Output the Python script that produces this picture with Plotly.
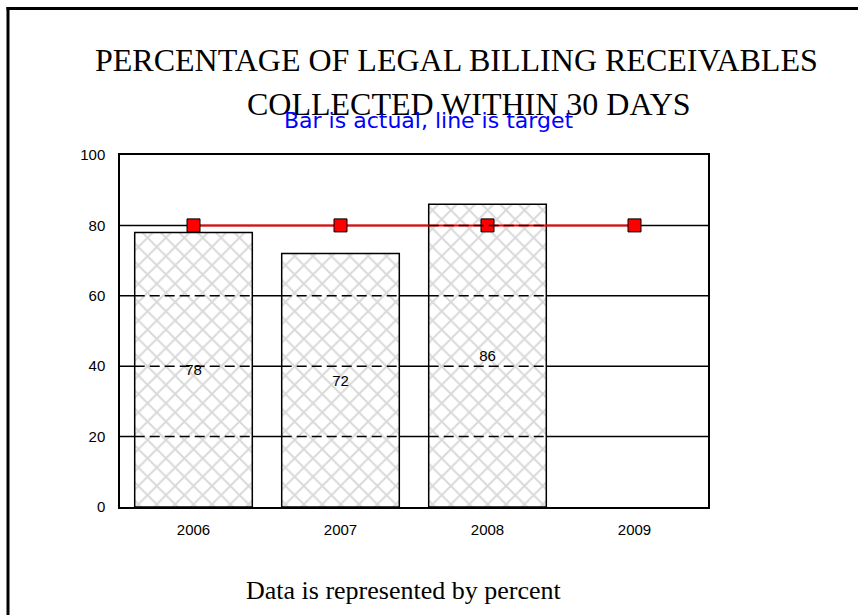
import plotly.graph_objects as go

years = ["2006", "2007", "2008", "2009"]
actual = [78, 72, 86, None]
target = [80, 80, 80, 80]
grid_values = [20, 40, 60, 80]
y_ticks = [0, 20, 40, 60, 80, 100]

W, H = 858, 615
L, R, T, B = 120, 708, 155, 507


def px(x):
    return (x - L) / (R - L)


def py(y):
    return (B - y) / (B - T)


fig = go.Figure()

fig.add_trace(go.Bar(
    x=years, y=actual,
    width=0.8,
    marker=dict(
        color="white",
        line=dict(color="black", width=1.5),
        pattern=dict(shape="x", fgcolor="#b4b4b4", bgcolor="white", size=13, solidity=0.28),
    ),
    text=[str(v) if v is not None else "" for v in actual],
    textposition="inside",
    insidetextanchor="middle",
    textfont=dict(family="Arial", size=15, color="black"),
    showlegend=False,
))

fig.add_trace(go.Scatter(
    x=years, y=target,
    mode="lines+markers",
    line=dict(color="#ff0000", width=2),
    marker=dict(symbol="square", size=13, color="#ff0000", line=dict(color="black", width=1)),
    showlegend=False,
))

shapes = []
# solid gridlines behind bars
for g in grid_values:
    shapes.append(dict(type="line", xref="paper", yref="y", x0=0, x1=1, y0=g, y1=g,
                       line=dict(color="black", width=1.5), layer="below"))
# dashed gridlines over bar interiors
for i, v in enumerate(actual):
    if v is None:
        continue
    for g in grid_values:
        if g < v:
            shapes.append(dict(type="line", xref="x", yref="y", x0=i - 0.4, x1=i + 0.4, y0=g, y1=g,
                               line=dict(color="black", width=1.5, dash="10px,5px"), layer="above"))
# slide border (top and left)
shapes.append(dict(type="line", xref="paper", yref="paper", x0=px(6.5), x1=px(870), y0=py(8.5), y1=py(8.5),
                   line=dict(color="black", width=3)))
shapes.append(dict(type="line", xref="paper", yref="paper", x0=px(8), x1=px(8), y0=py(7), y1=py(630),
                   line=dict(color="black", width=3)))

annotations = [
    dict(text="PERCENTAGE OF LEGAL BILLING RECEIVABLES", xref="paper", yref="paper",
         x=px(456), y=py(60.5), xanchor="center", yanchor="middle", showarrow=False,
         font=dict(family="Liberation Serif", size=32, color="black")),
    dict(text="COLLECTED WITHIN 30 DAYS", xref="paper", yref="paper",
         x=px(469), y=py(103.5), xanchor="center", yanchor="middle", showarrow=False,
         font=dict(family="Liberation Serif", size=32, color="black")),
    dict(text="Bar is actual, line is target", xref="paper", yref="paper",
         x=px(428), y=py(121), xanchor="center", yanchor="middle", showarrow=False,
         font=dict(family="DejaVu Sans", size=22, color="blue")),
    dict(text="Data is represented by percent", xref="paper", yref="paper",
         x=px(404), y=py(590), xanchor="center", yanchor="middle", showarrow=False,
         font=dict(family="Liberation Serif", size=26, color="black")),
]

fig.update_layout(
    width=W, height=H,
    margin=dict(l=L, r=W - R, t=T, b=H - B, pad=0),
    paper_bgcolor="white",
    plot_bgcolor="white",
    shapes=shapes,
    annotations=annotations,
    bargap=0.2,
    xaxis=dict(
        type="category",
        showgrid=False,
        showline=True, linecolor="black", linewidth=1.5, mirror=True,
        ticks="", ticklabelstandoff=8,
        tickfont=dict(family="Arial", size=15, color="black"),
        range=[-0.5, 3.5],
    ),
    yaxis=dict(
        range=[0, 100],
        tickvals=y_ticks,
        showgrid=False, zeroline=False,
        showline=True, linecolor="black", linewidth=1.5, mirror=True,
        ticks="", ticklabelstandoff=10,
        tickfont=dict(family="Arial", size=15, color="black"),
    ),
)

fig.write_html("out.html", config={"displayModeBar": False},
               post_script="document.body.style.margin='0';")
